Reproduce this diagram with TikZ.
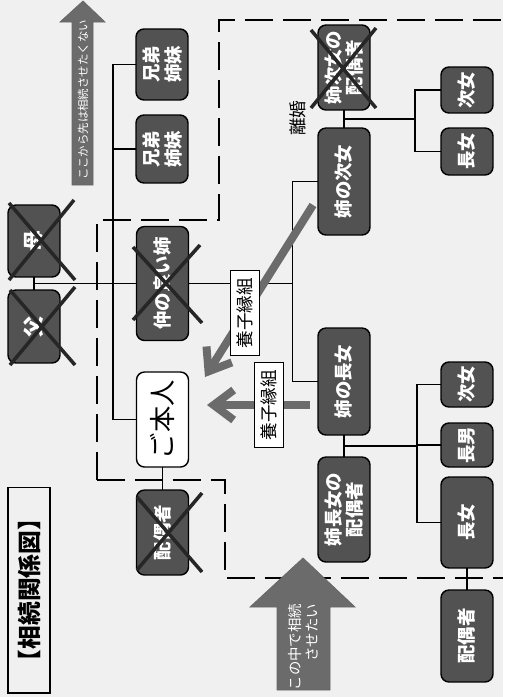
\documentclass[tikz,border=0pt]{standalone}
\usepackage{fontspec}
\setmainfont{Noto Sans CJK JP}
\usetikzlibrary{arrows.meta,calc}
\definecolor{boxgray}{gray}{0.32}
\definecolor{arrgray}{gray}{0.42}

\begin{document}
\begin{tikzpicture}[x=0.02cm, y=-0.02cm,
  person/.style={draw, line width=0.8pt, rounded corners=0.16cm, fill=boxgray,
                 text=white, rotate=90, align=center, inner sep=0pt, outer sep=0pt,
                 minimum height=1.04cm, font=\fontsize{10.5}{12.5}\selectfont\bfseries},
  self/.style={person, fill=white, text=black, font=\fontsize{15}{17}\selectfont},
  line/.style={line width=0.9pt},
  batsu/.style={line width=2pt, black!85},
  sikiri/.style={line width=1.3pt, dash pattern=on 0.56cm off 0.2cm},
  bigarr/.style={fill=arrgray, draw=black!60, line width=0.4pt},
  arrtxt/.style={text=white, rotate=90, align=right, inner sep=0pt},
  yoshi/.style={line width=0.16cm, draw=arrgray,
                -{Straight Barb[length=0.4cm, width=0.6cm]}},
  yoshilbl/.style={draw, fill=white, line width=0.6pt, rotate=90, inner sep=1pt,
                   minimum width=1.7cm, minimum height=0.58cm,
                   font=\fontsize{10}{12}\selectfont},
  lbl/.style={rotate=90, font=\fontsize{10}{12}\selectfont},
]
% ---- background / frame ----
\fill[black!6] (0,0) rectangle (503,697);
\node[draw, line width=0.6pt, rotate=90, minimum width=4.12cm, minimum height=0.84cm,
      inner sep=0pt, font=\fontsize{13.5}{15}\selectfont\bfseries] (title) at (29,590)
  {【相続関係図】};

% ---- dashed boundary ----
\draw[sikiri] (97,480) -- (97,220) -- (219,220) -- (219,20) -- (503,20);
\draw[sikiri] (97,480) -- (225,480) -- (225,578) -- (503,578);

% ---- big arrows ----
\path[bigarr] (72,185) -- (72,22) -- (60,22) -- (83,1) -- (105,22) -- (93,22)
  -- (93,185) -- cycle;
\node[arrtxt, font=\fontsize{6.5}{8}\selectfont] (nokeep) at (83,100)
  {ここから先は相続させたくない};
\path[bigarr] (277,690) -- (277,607) -- (250,607) -- (303,558) -- (355,607)
  -- (330,607) -- (330,690) -- cycle;
\node[arrtxt, font=\fontsize{8.2}{9.7}\selectfont] (keep) at (303,647)
  {この中で相続\\させたい};

% ---- parents / siblings ----
\node[person, minimum width=1.44cm, font=\fontsize{12}{14}\selectfont\bfseries]
  (haha) at (34,241) {母};
\node[person, minimum width=1.46cm, font=\fontsize{12}{14}\selectfont\bfseries]
  (chichi) at (34,326.5) {父};
\node[person, minimum width=1.42cm] (kyo1) at (162,64.5) {兄弟\\姉妹};
\node[person, minimum width=1.36cm] (kyo2) at (162,149) {兄弟\\姉妹};
\node[person, minimum width=2.28cm] (ane) at (162.5,283.5) {仲の良い姉};
\node[self, minimum width=1.9cm] (honnin) at (162.5,419.5) {ご本人};
\node[person, minimum width=1.7cm] (haigu) at (162.5,532.5) {配偶者};

% ---- sister's line ----
\node[person, minimum width=1.7cm] (jijosp) at (344,67.5) {姉次女の\\配偶者};
\node[person, minimum width=2.14cm] (jijo) at (344,181.5) {姉の次女};
\node[person, minimum width=2.14cm] (chojo) at (344,381.5) {姉の長女};
\node[person, minimum width=2.1cm] (chojosp) at (344,509.5) {姉長女の\\配偶者};

\node[person, minimum width=0.92cm] (jj1) at (467,90) {次女};
\node[person, minimum width=0.94cm] (jj2) at (467,151.5) {長女};
\node[person, minimum width=0.9cm] (cj1) at (467,384.5) {次女};
\node[person, minimum width=0.88cm] (cj2) at (467,445) {長男};
\node[person, minimum width=1.82cm] (cj3) at (467,522.5) {長女};
\node[person, minimum width=1.84cm] (cjsp) at (467,636) {配偶者};

% ---- connectors ----
\draw[line] (haha.west) -- coordinate (fufu) (chichi.east);
\draw[line] (fufu) -- (ane.north);
\coordinate (kyo) at ($(fufu)+(79,0)$);
\draw[line] (kyo1.north) -| (kyo);
\draw[line] (kyo2.north) -| (kyo);
\draw[line] (honnin.north) -| (kyo);
\draw[line] (honnin.west) -- (haigu.east);

\draw[line] (ane.south) -- ++(104,0) coordinate (anebr);
\draw[line] (jijo.north) -| (anebr);
\draw[line] (chojo.north) -| (anebr);

\draw[line] (jijosp.west) -- coordinate (jfufu) (jijo.east);
\draw[line] (jfufu) -- ++(71,0) coordinate (jbr);
\draw[line] (jj1.north) -| (jbr);
\draw[line] (jj2.north) -| (jbr);

\draw[line] (chojo.west) -- coordinate (cfufu) (chojosp.east);
\draw[line] (cfufu) -- ++(73,0) coordinate (cbr);
\draw[line] (cj1.north) -| (cbr);
\draw[line] (cj2.north) -| (cbr);
\draw[line] (cj3.north) -| (cbr);
\draw[line] (cj3.west) -- (cjsp.east);

\node[lbl] (rikon) at (298,118) {離婚};

% ---- crossed out ----
\draw[batsu] (9,203) -- (75,280) (74,200) -- (9,280);
\draw[batsu] (10,290) -- (75,365) (75,287) -- (10,365);
\draw[batsu] (133,247) -- (202,323) (200,245) -- (133,320);
\draw[batsu] (137,497) -- (202,572) (202,493) -- (137,570);
\draw[batsu] (311,30) -- (376,108) (376,28) -- (311,108);

% ---- adoption arrows ----
\coordinate (yo1a) at (313,205);
\coordinate (yo1b) at (205,377);
\coordinate (yo2a) at (310,405);
\coordinate (yo2b) at (207,405);
\draw[yoshi] (yo1a) -- (yo1b);
\draw[yoshi] (yo2a) -- (yo2b);
\node[yoshilbl] (yl1) at ($(yo1a)!0.63!(yo1b)$) {養子縁組};
\node[yoshilbl] (yl2) at ($(yo2a)!0.4!(yo2b)$) {養子縁組};

\end{tikzpicture}
\end{document}
